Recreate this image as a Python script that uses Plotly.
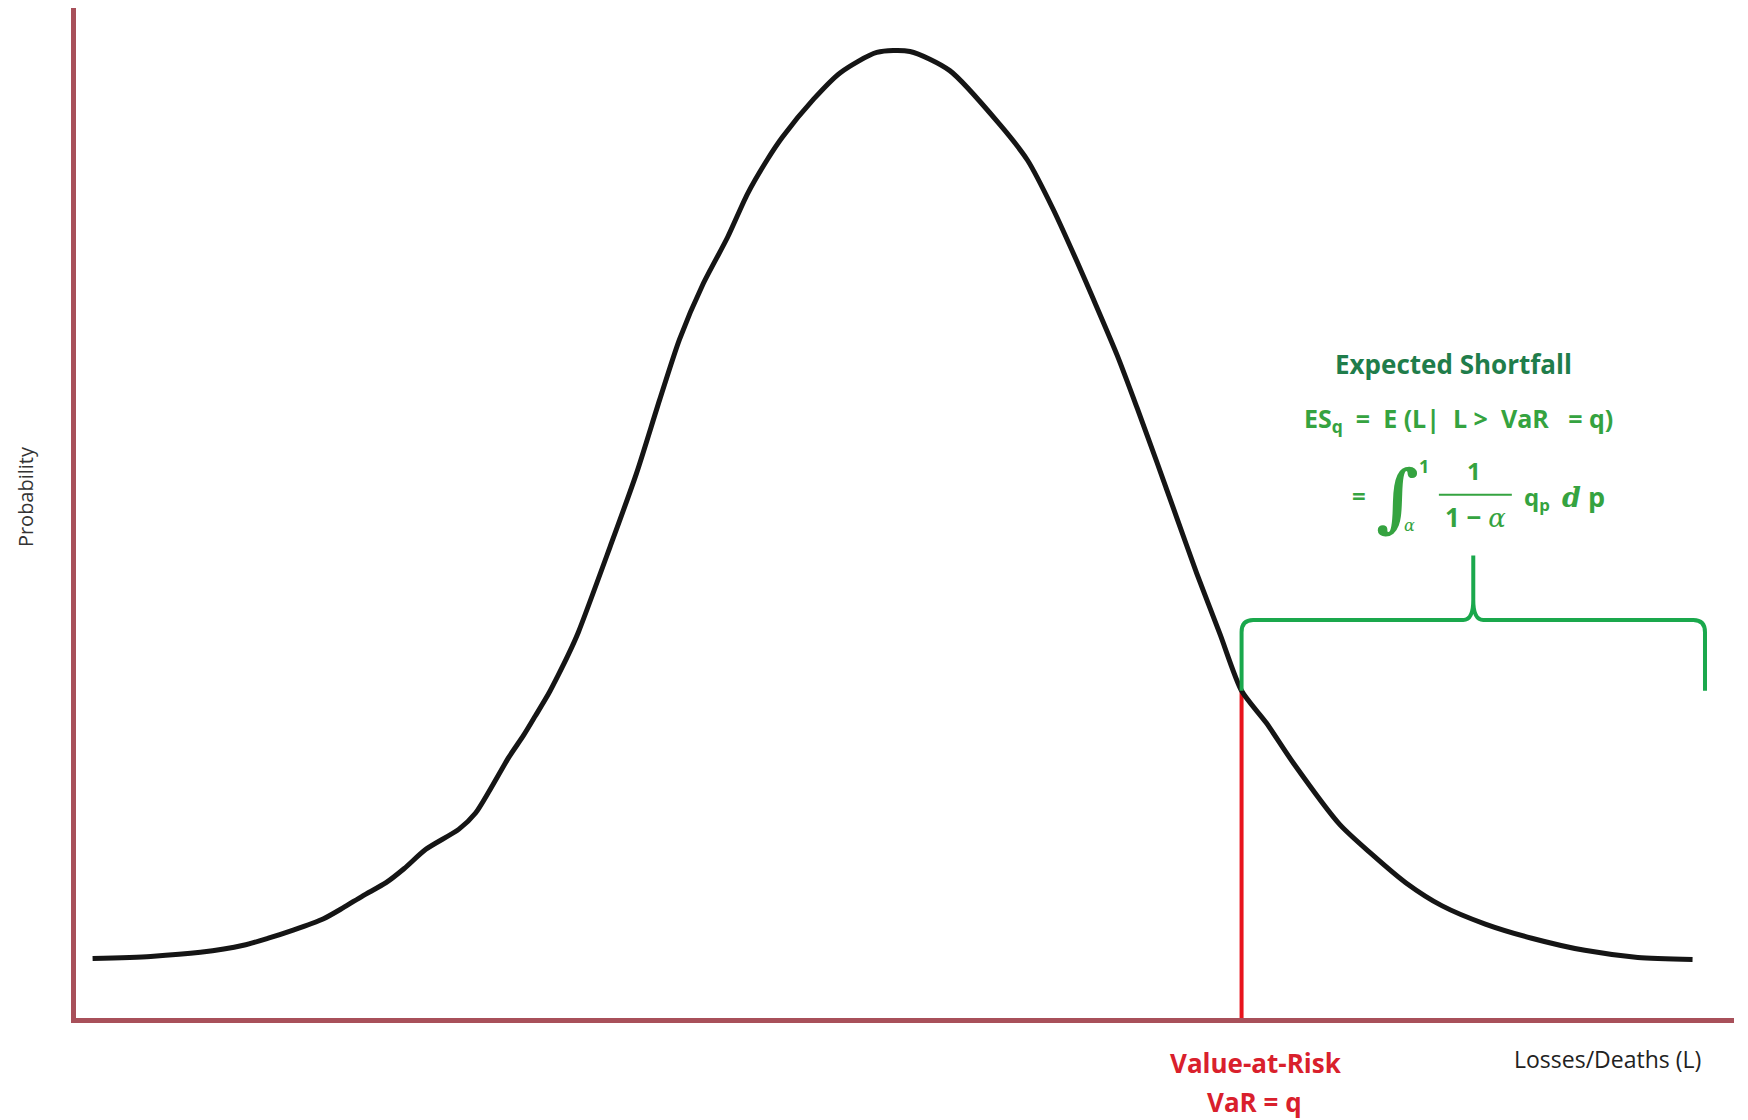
import plotly.graph_objects as go

# ---- data (abstract units: losses on x, probability density on y, 0..100) ----
loss = [1.0, 4.5, 7.5, 10.1, 11.6, 13.1, 14.9, 16.1, 17.3, 18.7, 19.8, 21.1, 23.1,
        24.1, 24.9, 26.1, 27.0, 27.7, 28.5, 29.1, 29.7, 30.3, 32.2, 33.8, 35.2, 36.4, 37.8,
        39.3, 40.5, 41.7, 42.6, 44.5, 46.1, 48.3, 50.3, 52.7, 55.7, 57.4, 58.9, 60.4, 61.3,
        62.8, 64.0, 65.2, 66.4, 67.6, 69.0, 70.3, 71.8, 73.4, 76.2, 78.1, 80.2, 82.4,
        85.0, 87.8, 91.0, 94.2, 97.5]
prob = [5.9, 6.1, 6.5, 7.2, 7.9, 8.7, 9.8, 10.9, 12.1, 13.4, 14.8, 16.7, 18.7,
        20.3, 22.4, 25.8, 28.0, 29.9, 32.1, 34.0, 36.0, 38.2, 46.6, 53.9, 61.2, 67.2, 72.6,
        77.3, 81.6, 85.0, 87.2, 91.0, 93.6, 95.6, 95.7, 93.8, 88.5, 84.9, 80.2, 74.8, 71.4,
        65.6, 60.4, 55.0, 49.5, 44.0, 38.0, 32.4, 29.2, 25.3, 19.2, 16.3, 13.4, 11.1,
        9.3, 7.9, 6.7, 6.0, 5.8]

VAR_X = 70.3          # Value-at-Risk position on the loss axis
VAR_Y = 32.4          # density at VaR
TAIL_END = 98.25      # right end of the ES tail bracket
BRACE_Y = 39.4        # bracket level
BRACE_TIP = 45.8      # bracket tip

AXIS_COLOR = "#a8505a"
GREEN_DARK = "#1f7d4b"
GREEN = "#35a340"
BRACE_GREEN = "#1aa84c"
RED = "#e8141c"
RED_TEXT = "#d9202c"
FONT = "'Open Sans', Lato, sans-serif"
SERIF = "'DejaVu Serif', 'Liberation Serif', serif"

fig = go.Figure()

# VaR vertical line
fig.add_trace(go.Scatter(x=[VAR_X, VAR_X], y=[0, VAR_Y], mode="lines",
                         line=dict(color=RED, width=4), hoverinfo="skip", showlegend=False))
# density curve
fig.add_trace(go.Scatter(x=loss, y=prob, mode="lines",
                         line=dict(color="#151515", width=5, shape="spline", smoothing=0.7),
                         showlegend=False))

# Curly bracket over the tail
rx, ry = 0.7, 1.2
mid = (VAR_X + TAIL_END) / 2
tx, ty = 0.6, 2.0
path = (f"M {VAR_X},{VAR_Y} L {VAR_X},{BRACE_Y - ry} "
        f"Q {VAR_X},{BRACE_Y} {VAR_X + rx},{BRACE_Y} "
        f"L {mid - tx},{BRACE_Y} Q {mid},{BRACE_Y} {mid},{BRACE_Y + ty} L {mid},{BRACE_TIP} "
        f"L {mid},{BRACE_Y + ty} Q {mid},{BRACE_Y} {mid + tx},{BRACE_Y} "
        f"L {TAIL_END - rx},{BRACE_Y} Q {TAIL_END},{BRACE_Y} {TAIL_END},{BRACE_Y - ry} "
        f"L {TAIL_END},{VAR_Y}")
fig.add_shape(type="path", path=path, xref="x", yref="y",
              line=dict(color=BRACE_GREEN, width=4))

# fraction bar
fig.add_shape(type="line", xref="x", yref="y", x0=82.2, x1=86.6, y0=51.8, y1=51.8,
              line=dict(color=GREEN, width=2))


def ann(text, x, y, size, color, family=FONT, angle=0):
    # x, y given in axis units (0..100) -> paper fractions (axes span the whole plot area)
    fig.add_annotation(text=text, x=x / 100, y=y / 100, xref="paper", yref="paper",
                       showarrow=False, font=dict(size=size, color=color, family=family),
                       textangle=angle, xanchor="center", yanchor="middle")


ann("<b>Expected Shortfall</b>", 83.1, 64.8, 26, GREEN_DARK)
ann("<b>ES<sub>q</sub>  =  E (L|  L &gt;  VaR   = q)</b>", 83.4, 59.3, 25, GREEN)
ann("<b>=</b>", 77.4, 51.7, 24, GREEN)
ann("<b>∫</b>", 79.7, 51.6, 74, GREEN, family=SERIF)
ann("<b>1</b>", 81.3, 54.7, 18, GREEN)
ann("<i>α</i>", 80.4, 48.8, 16, GREEN, family=SERIF)
ann("<b>1</b>", 84.3, 54.2, 24, GREEN)
ann("<b>1 − </b><span style=\"font-family:'DejaVu Serif'\"><i>α</i></span>", 84.4, 49.6, 26, GREEN)
ann("<b>q<sub>p</sub></b>", 88.1, 51.5, 24, GREEN)
ann("<span style=\"font-family:'DejaVu Serif'\"><b><i>d</i></b></span><b> p</b>", 90.9, 51.6, 27, GREEN)

ann("<b>Value-at-Risk</b>", 71.2, -4.45, 26, RED_TEXT)
ann("<b>VaR = q</b>", 71.1, -8.3, 26, RED_TEXT)
ann("Losses/Deaths (L)", 92.4, -4.1, 23, "#222222")
ann("Probability", -3.0, 51.6, 20, "#333333", angle=-90)

# The page body has an 8px default margin; size the figure so the plot lands where it should.
fig.update_layout(
    width=1740, height=1112,
    margin=dict(l=68, r=14, t=0, b=102),
    paper_bgcolor="white", plot_bgcolor="white",
    showlegend=False,
    xaxis=dict(range=[0, 100], showline=True, linecolor=AXIS_COLOR, linewidth=5,
               showgrid=False, zeroline=False, showticklabels=False, ticks=""),
    yaxis=dict(range=[0, 100], showline=True, linecolor=AXIS_COLOR, linewidth=5,
               showgrid=False, zeroline=False, showticklabels=False, ticks=""),
)

fig.write_html("out.html")
